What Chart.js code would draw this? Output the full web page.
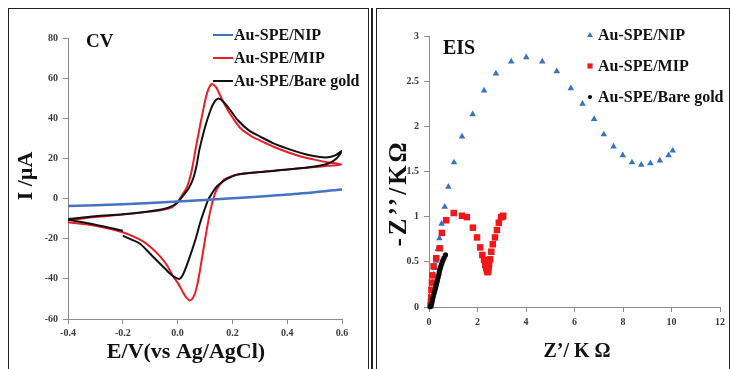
<!DOCTYPE html>
<html>
<head>
<meta charset="utf-8">
<script src="https://cdn.jsdelivr.net/npm/chart.js@4.4.1/dist/chart.umd.min.js"></script>
<style>
  html, body { margin: 0; padding: 0; background: #fff; }
  #wrap { position: relative; width: 730px; height: 369px; overflow: hidden; }
  #wrap canvas { position: absolute; top: 0; }
  #cv { left: 0; }
  #eis { left: 370px; }
  .frame { position: absolute; box-sizing: border-box; border: 1.5px solid #222; pointer-events: none; }
  .vline { position: absolute; width: 1.5px; background: #222; pointer-events: none; }
</style>
</head>
<body>
<div id="wrap">
  <canvas id="cv" width="370" height="369"></canvas>
  <canvas id="eis" width="360" height="369"></canvas>
  <div class="frame" style="left:8px;top:8px;width:361px;height:400px"></div>
  <div class="vline" style="left:371px;top:8px;height:400px"></div>
  <div class="frame" style="left:376px;top:8px;width:354px;height:400px"></div>
</div>
<script>
// ---- CV data: potential E (V vs Ag/AgCl) and current I (µA), in scan order
const nipE = [-0.4, -0.2, 0.0, 0.2, 0.4, 0.6];
const nipI = [-3.7, -2.8, -1.5, 0.1, 2.0, 4.5];

const mipE = [-0.4, -0.3, -0.2, -0.1, -0.05, -0.02, 0.0, 0.02, 0.035, 0.05, 0.07, 0.094, 0.108, 0.124, 0.14, 0.155, 0.175, 0.2, 0.23, 0.27, 0.3, 0.35, 0.4, 0.45, 0.5, 0.55, 0.6,
              0.55, 0.5, 0.42, 0.3, 0.22, 0.19, 0.17, 0.155, 0.143, 0.133, 0.118, 0.1, 0.082, 0.07, 0.058, 0.045, 0.033, 0.021, 0.003, -0.016, -0.04, -0.064, -0.1, -0.137, -0.2, -0.3, -0.4];
const mipI = [-10.8, -9.2, -8.0, -6.5, -5.5, -4.2, -1.8, 2.5, 6.0, 13.0, 27.8, 44.5, 52.8, 57.0, 55.5, 51.5, 46.0, 40.5, 35.0, 31.0, 29.0, 25.8, 23.2, 21.0, 19.4, 18.0, 17.0,
              16.3, 15.7, 14.7, 13.2, 12.0, 10.8, 9.5, 7.0, 4.5, 1.2, -7.0, -20.5, -35.5, -44.0, -49.0, -50.8, -49.5, -47.0, -42.5, -38.8, -33.0, -28.8, -24.0, -20.5, -16.8, -13.5, -11.8];

const bareE = [-0.4, -0.3, -0.2, -0.1, -0.05, -0.02, 0.0, 0.02, 0.04, 0.057, 0.07, 0.079, 0.1, 0.12, 0.135, 0.149, 0.165, 0.19, 0.22, 0.26, 0.3, 0.35, 0.42, 0.47, 0.52, 0.55, 0.575, 0.6,
               0.58, 0.55, 0.5, 0.42, 0.3, 0.22, 0.19, 0.167, 0.143, 0.125, 0.112, 0.097, 0.082, 0.065, 0.045, 0.03, 0.018, 0.007, -0.01, -0.027, -0.045, -0.064, -0.1, -0.137, -0.17, -0.2,
               -0.2, -0.2, -0.3, -0.4];
const bareI = [-10.2, -8.8, -7.8, -6.3, -5.2, -3.8, -1.8, 1.5, 5.0, 10.0, 17.0, 24.0, 35.5, 44.0, 48.3, 49.8, 48.5, 44.5, 39.0, 34.0, 31.0, 27.5, 24.0, 22.0, 20.7, 20.6, 21.5, 23.7,
               20.0, 17.5, 16.0, 14.7, 13.2, 12.0, 10.5, 8.7, 6.0, 2.5, -0.5, -6.0, -12.2, -20.5, -28.8, -34.5, -38.3, -40.0, -39.2, -37.5, -35.0, -32.5, -27.5, -22.5, -20.3, -18.5,
               null, -16.0, -13.0, -10.5];

const cvXTicks = [-0.4, -0.2, 0.0, 0.2, 0.4, 0.6];
const cvYTicks = [-60, -40, -20, 0, 20, 40, 60, 80];

// ---- EIS data: Z' (kΩ) and -Z'' (kΩ)
const nipRe = [0.06, 0.09, 0.12, 0.15, 0.19, 0.24, 0.29, 0.36, 0.43, 0.52, 0.65, 0.8, 1.03, 1.36, 1.8, 2.27, 2.76, 3.39, 4.01, 4.67, 5.27, 5.85, 6.33, 6.81, 7.21, 7.61, 7.99, 8.37, 8.75, 9.13, 9.52, 9.88, 10.05];
const nipIm = [0.03, 0.1, 0.18, 0.27, 0.36, 0.43, 0.51, 0.64, 0.76, 0.92, 1.11, 1.33, 1.6, 1.886, 2.133, 2.395, 2.583, 2.716, 2.764, 2.716, 2.61, 2.42, 2.25, 2.08, 1.91, 1.775, 1.68, 1.6, 1.575, 1.59, 1.62, 1.68, 1.73];

const mipRe = [0.07, 0.08, 0.09, 0.1, 0.12, 0.14, 0.19, 0.3, 0.44, 0.53, 0.71, 1.02, 1.36, 1.56, 1.81, 1.98, 2.11, 2.2, 2.27, 2.32, 2.36, 2.39, 2.42, 2.45, 2.46, 2.48, 2.52, 2.57, 2.63, 2.72, 2.8, 2.88, 2.97, 3.03, 3.06];
const mipIm = [0.02, 0.06, 0.11, 0.19, 0.27, 0.35, 0.45, 0.54, 0.65, 0.82, 0.96, 1.04, 1.01, 0.995, 0.878, 0.77, 0.66, 0.576, 0.52, 0.465, 0.43, 0.4, 0.385, 0.41, 0.45, 0.48, 0.528, 0.612, 0.694, 0.77, 0.852, 0.933, 0.993, 1.0, 1.01];

const bareRe = [0.05, 0.07, 0.095, 0.12, 0.14, 0.165, 0.19, 0.22, 0.25, 0.275, 0.3, 0.325, 0.35, 0.375, 0.4, 0.42, 0.44, 0.465, 0.49, 0.52, 0.55, 0.58, 0.62, 0.68];
const bareIm = [0.003, 0.02, 0.033, 0.055, 0.078, 0.105, 0.133, 0.16, 0.19, 0.215, 0.244, 0.27, 0.3, 0.327, 0.354, 0.38, 0.41, 0.43, 0.454, 0.475, 0.5, 0.52, 0.545, 0.576];

const eisXTicks = [0, 2, 4, 6, 8, 10, 12];
const eisYTicks = [0, 0.5, 1, 1.5, 2, 2.5, 3];

const serif = '"Liberation Serif", "Times New Roman", serif';
Chart.defaults.font.family = serif;
Chart.defaults.devicePixelRatio = 1;

const pts = (xs, ys) => xs.map((x, i) => ({ x: x, y: ys[i] }));

function marker(ctx, style, x, y, r, color) {
  ctx.fillStyle = color;
  ctx.beginPath();
  if (style === 'triangle') {
    ctx.moveTo(x, y - r);
    ctx.lineTo(x + r * 0.95, y + r * 0.65);
    ctx.lineTo(x - r * 0.95, y + r * 0.65);
    ctx.closePath();
  } else if (style === 'rect') {
    const s = r * Math.SQRT1_2;
    ctx.rect(x - s, y - s, 2 * s, 2 * s);
  } else {
    ctx.arc(x, y, r, 0, Math.PI * 2);
  }
  ctx.fill();
}

// draws axis titles, panel label and the legend inside the frame
const annotate = {
  id: 'annotate',
  afterDraw(chart, args, opts) {
    const ctx = chart.ctx;
    (opts.texts || []).forEach(t => {
      ctx.save();
      ctx.font = t.font;
      ctx.fillStyle = '#111';
      ctx.textAlign = t.align || 'center';
      ctx.textBaseline = 'middle';
      if (t.spacing) ctx.letterSpacing = t.spacing + 'px';
      ctx.translate(t.x, t.y);
      if (t.rotate) ctx.rotate(t.rotate);
      ctx.fillText(t.text, 0, 0);
      ctx.restore();
    });
    const lg = opts.legend;
    if (!lg) return;
    ctx.save();
    ctx.font = 'bold 16px ' + serif;
    ctx.textBaseline = 'middle';
    ctx.textAlign = 'left';
    chart.data.datasets.forEach((ds, i) => {
      const y = lg.y + i * lg.gap;
      if (lg.kind === 'line') {
        ctx.strokeStyle = ds.borderColor;
        ctx.lineWidth = 2;
        ctx.beginPath();
        ctx.moveTo(lg.x, y);
        ctx.lineTo(lg.x + lg.len, y);
        ctx.stroke();
      } else {
        marker(ctx, ds.pointStyle, lg.x, y, ds.pointRadius * 0.8, ds.backgroundColor);
      }
      ctx.fillStyle = '#111';
      ctx.fillText(ds.label, lg.textX, y + 1);
    });
    ctx.restore();
  }
};

function axis(min, max, list, fmt, fit, pad) {
  return {
    type: 'linear',
    min: min,
    max: max,
    afterBuildTicks: s => { s.ticks = list.map(v => ({ value: v })); },
    afterFit: fit,
    border: { display: true, color: '#8c8c8c', width: 1 },
    grid: { display: true, drawOnChartArea: false, drawTicks: true, tickLength: 5, color: '#8c8c8c' },
    ticks: { color: '#3a3a3a', font: { size: 10, weight: 'bold' }, padding: pad, callback: fmt }
  };
}

const cvLine = (label, xs, ys, color, w, order) => ({
  label: label, data: pts(xs, ys), showLine: true, borderColor: color, backgroundColor: color,
  borderWidth: w, pointRadius: 0, tension: 0.3, spanGaps: false, order: order
});

new Chart(document.getElementById('cv'), {
  type: 'scatter',
  data: {
    datasets: [
      cvLine('Au-SPE/NIP', nipE, nipI, '#4472c4', 2.5, 1),
      cvLine('Au-SPE/MIP', mipE, mipI, '#ee1c25', 2, 3),
      cvLine('Au-SPE/Bare gold', bareE, bareI, '#111111', 2, 2)
    ]
  },
  options: {
    responsive: false,
    animation: false,
    layout: { padding: { left: 0, right: 28, top: 38, bottom: 0 } },
    plugins: {
      legend: { display: false },
      tooltip: { enabled: false },
      annotate: {
        texts: [
          { text: 'CV', x: 86, y: 42, font: 'bold 19px ' + serif, align: 'left' },
          { text: 'E/V(vs Ag/AgCl)', x: 186, y: 352, font: 'bold 22px ' + serif },
          { text: 'I /\u00b5A', x: 26, y: 176, font: 'bold 22px ' + serif, rotate: -Math.PI / 2 }
        ],
        legend: { kind: 'line', x: 213, len: 20, textX: 234, y: 35, gap: 23 }
      }
    },
    scales: {
      x: axis(-0.4, 0.6, cvXTicks, v => Math.abs(v) < 1e-9 ? '0.0' : v.toFixed(1), s => { s.height = 50; }, 3),
      y: axis(-60, 80, cvYTicks, v => String(v), s => { s.width = 68; }, 5)
    }
  },
  plugins: [annotate]
});

const eisSet = (label, xs, ys, color, style, r, order) => ({
  label: label, data: pts(xs, ys), backgroundColor: color, borderColor: color, borderWidth: 0,
  pointStyle: style, pointRadius: r, clip: false, order: order
});

new Chart(document.getElementById('eis'), {
  type: 'scatter',
  data: {
    datasets: [
      eisSet('Au-SPE/NIP', nipRe, nipIm, '#3a72c0', 'triangle', 3.8, 3),
      eisSet('Au-SPE/MIP', mipRe, mipIm, '#f01818', 'rect', 4.6, 2),
      eisSet('Au-SPE/Bare gold', bareRe, bareIm, '#0a0a0a', 'circle', 2.6, 1)
    ]
  },
  options: {
    responsive: false,
    animation: false,
    layout: { padding: { left: 0, right: 10, top: 36, bottom: 0 } },
    plugins: {
      legend: { display: false },
      tooltip: { enabled: false },
      annotate: {
        texts: [
          { text: 'EIS', x: 73, y: 49, font: 'bold 20px ' + serif, align: 'left' },
          { text: 'Z\u2019/ K \u03a9', x: 207, y: 352, font: 'bold 20px ' + serif },
          { text: '-Z\u2019\u2019/K\u03a9', x: 30, y: 193, font: 'bold 25px ' + serif, rotate: -Math.PI / 2, spacing: 3 }
        ],
        legend: { kind: 'marker', x: 220, textX: 228, y: 35, gap: 31 }
      }
    },
    scales: {
      x: axis(0, 12, eisXTicks, v => String(v), s => { s.height = 62; }, 4),
      y: axis(0, 3, eisYTicks, v => String(v), s => { s.width = 59; }, 5)
    }
  },
  plugins: [annotate]
});
</script>
</body>
</html>
